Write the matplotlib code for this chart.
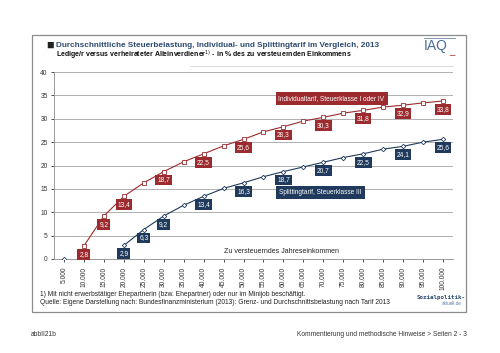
import matplotlib
matplotlib.use("Agg")
import matplotlib.pyplot as plt
from matplotlib.patches import Rectangle

plt.rcParams['font.family'] = ['Liberation Sans', 'DejaVu Sans']

# zu versteuerndes Jahreseinkommen (Euro)
income = [5000, 10000, 15000, 20000, 25000, 30000, 35000, 40000, 45000, 50000,
          55000, 60000, 65000, 70000, 75000, 80000, 85000, 90000, 95000, 100000]
tick_labels = ["5.000", "10.000", "15.000", "20.000", "25.000", "30.000", "35.000",
               "40.000", "45.000", "50.000", "55.000", "60.000", "65.000", "70.000",
               "75.000", "80.000", "85.000", "90.000", "95.000", "100.000"]

# Individualtarif (from 10.000)
indiv = [2.8, 9.2, 13.4, 16.3, 18.7, 20.8, 22.5, 24.2, 25.6,
         27.2, 28.3, 29.5, 30.3, 31.2, 31.8, 32.5, 32.9, 33.4, 33.8]
indiv_lab = ["2,8", "9,2", "13,4", None, "18,7", None, "22,5", None, "25,6",
             None, "28,3", None, "30,3", None, "31,8", None, "32,9", None, "33,8"]

# Splittingtarif (from 20.000)
split = [2.9, 6.3, 9.2, 11.5, 13.4, 15.1, 16.3, 17.6, 18.7,
         19.7, 20.7, 21.7, 22.5, 23.5, 24.1, 25.0, 25.6]
split_lab = ["2,9", "6,3", "9,2", None, "13,4", None, "16,3", None, "18,7",
             None, "20,7", None, "22,5", None, "24,1", None, "25,6"]

red = '#9b2b2e'
navy = '#1f3a5c'

fig = plt.figure(figsize=(5, 3.53), dpi=100)
fig.patches.append(Rectangle((32/500, 1-312/353), 434/500, 277/353, transform=fig.transFigure,
                             fill=False, edgecolor='#8c8c8c', linewidth=0.9))

ax = fig.add_axes([0.108, 0.2663, 0.798, 0.5297])
xi = list(range(len(income)))

ax.plot(xi[1:], indiv, color=red, lw=0.8, marker='s', ms=3, mfc='white', mec=red, mew=0.6, zorder=3)
ax.plot(xi[3:], split, color=navy, lw=0.8, marker='D', ms=2.3, mfc='white', mec=navy, mew=0.6, zorder=3)
ax.plot([0], [0], marker='D', ms=2.3, mfc='white', mec=navy, mew=0.6, ls='none', zorder=3)

for i, v, t in zip(xi[1:], indiv, indiv_lab):
    if t:
        ax.annotate(t, (i, v), xytext=(0, -6), textcoords='offset points', ha='center', va='center',
                    fontsize=4.8, color='white',
                    bbox=dict(boxstyle='square,pad=0.28', fc=red, ec='none'), zorder=4)
for i, v, t in zip(xi[3:], split, split_lab):
    if t:
        ax.annotate(t, (i, v), xytext=(0, -6), textcoords='offset points', ha='center', va='center',
                    fontsize=4.8, color='white',
                    bbox=dict(boxstyle='square,pad=0.28', fc=navy, ec='none'), zorder=4)

ax.text(10.75, 34.4, "Individualtarif, Steuerklasse I oder IV", fontsize=4.7, color='white',
        ha='left', va='center', bbox=dict(boxstyle='square,pad=0.45', fc=red, ec='none'))
ax.text(10.8, 14.3, "Splittingtarif, Steuerklasse III", fontsize=4.7, color='white',
        ha='left', va='center', bbox=dict(boxstyle='square,pad=0.45', fc=navy, ec='none'))
ax.text(8.0, 1.6, "Zu versteuerndes Jahreseinkommen", fontsize=5, color='#222222', ha='left', va='center')

ax.set_xlim(-0.5, 19.5)
ax.set_ylim(0, 40)
ax.set_yticks(range(0, 41, 5))
ax.set_xticks(xi)
ax.set_xticklabels(tick_labels, rotation=90)
ax.tick_params(axis='both', labelsize=4.8, colors='#333333', length=2.5, width=0.6, pad=2)
ax.tick_params(axis='x', pad=3)
ax.yaxis.grid(True, color='#b0b0b0', lw=0.7)
ax.set_axisbelow(True)
for s in ['top', 'right']:
    ax.spines[s].set_visible(False)
for s in ['left', 'bottom']:
    ax.spines[s].set_color('#999999')
    ax.spines[s].set_linewidth(0.7)

# header
fig.text(46/500, 1-45.5/353, "\u25a0", fontsize=9, color='#222222', va='center', ha='left')
fig.text(56/500, 1-45.5/353, "Durchschnittliche Steuerbelastung, Individual- und Splittingtarif im Vergleich, 2013",
         fontsize=5.9, fontweight='bold', color='#2c4a70', va='center', ha='left')
fig.text(56/500, 1-55.5/353, "Ledige/r versus verheirateter Alleinverdiener$^{1)}$ - in % des zu versteuernden Einkommens",
         fontsize=5.0, fontweight='bold', color='#111111', va='center', ha='left')
fig.text(424/500, 1-46/353, "IAQ", fontsize=10, color='#4a6d96', va='center', ha='left')
fig.text(449/500, 1-51/353, "_", fontsize=7, color='#c0392b', va='center', ha='left')
fig.lines.append(plt.Line2D([424/500, 455/500], [1-38/353, 1-38/353], transform=fig.transFigure,
                            color='#4a6d96', lw=0.5))
fig.lines.append(plt.Line2D([190/500, 453/500], [1-66/353, 1-66/353], transform=fig.transFigure,
                            color='#cccccc', lw=0.5))

# footer
fig.text(40/500, 1-295/353, "1) Mit nicht erwerbstätiger Ehepartnerin (bzw. Ehepartner) oder nur im Minijob beschäftigt.",
         fontsize=4.8, color='#222222', va='center', ha='left')
fig.text(40/500, 1-302/353, "Quelle: Eigene Darstellung nach: Bundesfinanzministerium (2013): Grenz- und Durchschnittsbelastung nach Tarif 2013",
         fontsize=4.8, color='#222222', va='center', ha='left')
fig.text(417/500, 1-297/353, "Sozialpolitik-", fontsize=4.2, color='#2c4a70', family='DejaVu Sans Mono',
         va='center', ha='left', fontweight='bold')
fig.text(462/500, 1-303.5/353, "aktuell.de", fontsize=3.3, color='#5b7fa8', va='center', ha='right')

fig.text(31/500, 1-335/353, "abbII21b", fontsize=4.8, color='#333333', va='center', ha='left')
fig.text(467/500, 1-335/353, "Kommentierung und methodische Hinweise > Seiten 2 - 3", fontsize=4.8,
         color='#333333', va='center', ha='right')

fig.savefig("out.png", dpi=100)
